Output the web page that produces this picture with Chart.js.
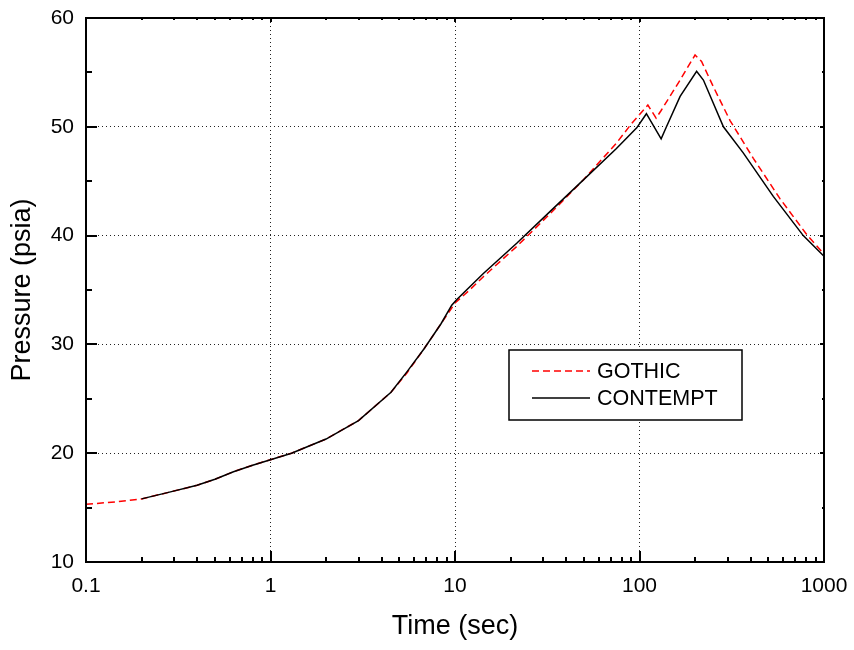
<!DOCTYPE html>
<html>
<head>
<meta charset="utf-8">
<script src="https://cdn.jsdelivr.net/npm/chart.js@4/dist/chart.umd.min.js"></script>
<style>
  html, body { margin: 0; padding: 0; background: #fff; }
  #wrap { width: 854px; height: 650px; }
</style>
</head>
<body>
<div id="wrap"><canvas id="c" width="854" height="650"></canvas></div>
<script>
// ---- data ----
const seriesNames = ["GOTHIC", "CONTEMPT"];

const gothicTime = [0.1, 0.15, 0.2, 0.28, 0.4, 0.5, 0.63, 0.8, 1.0, 1.3, 2.0, 3.0, 4.5, 5.5, 6.8, 8.4, 10.0, 12, 14.2, 21.6, 32.7, 49.5, 75, 90.6, 111, 123, 131, 166, 200, 217, 251, 309, 414, 577, 806, 1000];
const gothicPressure = [15.3, 15.55, 15.8, 16.4, 17.05, 17.6, 18.3, 18.9, 19.4, 20.0, 21.3, 23.0, 25.6, 27.4, 29.6, 31.9, 33.8, 35.0, 36.2, 39.0, 42.0, 45.1, 48.5, 50.3, 52.0, 50.8, 51.5, 54.3, 56.6, 56.0, 53.7, 50.6, 47.1, 43.4, 40.1, 38.3];

const contemptTime = [0.2, 0.28, 0.4, 0.5, 0.63, 0.8, 1.0, 1.3, 2.0, 3.0, 4.5, 5.5, 6.8, 8.4, 9.6, 10.2, 14.2, 21.6, 32.7, 49.5, 75, 96.6, 109, 131, 140, 166, 204, 222, 285, 365, 531, 772, 1000];
const contemptPressure = [15.8, 16.4, 17.05, 17.6, 18.3, 18.9, 19.4, 20.0, 21.3, 23.0, 25.6, 27.5, 29.6, 31.9, 33.6, 34.1, 36.5, 39.3, 42.2, 45.1, 48.0, 49.9, 51.2, 48.9, 50.0, 52.8, 55.1, 54.3, 50.0, 47.6, 43.6, 40.0, 38.1];

const xTickValues = [0.1, 1, 10, 100, 1000];
const xTickLabels = ["0.1", "1", "10", "100", "1000"];
const yTickValues = [10, 20, 30, 40, 50, 60];
const yTickLabels = ["10", "20", "30", "40", "50", "60"];

const xTitle = "Time (sec)";
const yTitle = "Pressure (psia)";

// ---- chart ----
const FONT = "'Liberation Sans', Arial, sans-serif";

function toPoints(xs, ys) { return xs.map((x, i) => ({ x: x, y: ys[i] })); }

const framePlugin = {
  id: 'frameTicksLegend',
  afterDatasetsDraw(chart) {
    const ctx = chart.ctx;
    const a = chart.chartArea;
    const xs = chart.scales.x, ys = chart.scales.y;
    ctx.save();
    ctx.strokeStyle = '#000';
    ctx.lineWidth = 2;
    ctx.setLineDash([]);
    ctx.strokeRect(a.left, a.top, a.right - a.left, a.bottom - a.top);
    ctx.beginPath();
    for (let d = 0; d < xTickValues.length; d++) {
      const dec = xTickValues[d];
      for (let k = 1; k <= 9; k++) {
        const v = dec * k;
        if (v > xs.max * 1.0001) break;
        const px = Math.round(xs.getPixelForValue(v));
        const major = (k === 1);
        const lb = major ? 11 : 5;
        const lt = major ? 4 : 2;
        ctx.moveTo(px, a.bottom); ctx.lineTo(px, a.bottom - lb);
        ctx.moveTo(px, a.top); ctx.lineTo(px, a.top + lt);
      }
    }
    for (let i = 0; i < yTickValues.length; i++) {
      const v = yTickValues[i];
      const py = Math.round(ys.getPixelForValue(v));
      ctx.moveTo(a.left, py); ctx.lineTo(a.left + 11, py);
      ctx.moveTo(a.right, py); ctx.lineTo(a.right - 4, py);
      if (i < yTickValues.length - 1) {
        const m = (v + yTickValues[i + 1]) / 2;
        const pm = Math.round(ys.getPixelForValue(m));
        ctx.moveTo(a.left, pm); ctx.lineTo(a.left + 6, pm);
        ctx.moveTo(a.right, pm); ctx.lineTo(a.right - 2, pm);
      }
    }
    ctx.stroke();

    // legend box
    const bx = 509, by = 350, bw = 233, bh = 70;
    ctx.fillStyle = '#fff';
    ctx.fillRect(bx, by, bw, bh);
    ctx.lineWidth = 1.5;
    ctx.strokeStyle = '#000';
    ctx.strokeRect(bx, by, bw, bh);
    ctx.font = "21.5px " + FONT;
    ctx.textBaseline = 'middle';
    ctx.textAlign = 'left';
    const rows = [371, 398];
    chart.data.datasets.forEach((ds, i) => {
      const y = rows[i];
      ctx.beginPath();
      ctx.strokeStyle = ds.borderColor;
      ctx.lineWidth = ds.borderWidth;
      ctx.setLineDash(ds.borderDash || []);
      ctx.moveTo(532, y); ctx.lineTo(590, y);
      ctx.stroke();
      ctx.setLineDash([]);
      ctx.fillStyle = '#000';
      ctx.fillText(ds.label, 597, y + 1);
    });
    ctx.restore();
  }
};

new Chart(document.getElementById('c'), {
  type: 'line',
  data: {
    datasets: [
      {
        label: seriesNames[0],
        data: toPoints(gothicTime, gothicPressure),
        borderColor: '#ff0000',
        borderWidth: 1.5,
        borderDash: [7, 4],
        pointRadius: 0,
        tension: 0,
        fill: false,
        order: 1
      },
      {
        label: seriesNames[1],
        data: toPoints(contemptTime, contemptPressure),
        borderColor: '#000000',
        borderWidth: 1.5,
        pointRadius: 0,
        tension: 0,
        fill: false,
        order: 0
      }
    ]
  },
  options: {
    responsive: false,
    animation: false,
    devicePixelRatio: 1,
    layout: { padding: { left: 0, top: 18, right: 30, bottom: 0 } },
    plugins: {
      legend: { display: false },
      tooltip: { enabled: false },
      title: { display: false }
    },
    scales: {
      x: {
        type: 'logarithmic',
        min: 0.1,
        max: 1000,
        afterBuildTicks(s) { s.ticks = xTickValues.map(v => ({ value: v })); },
        afterFit(s) { s.height = 88; s.paddingLeft = 0; s.paddingRight = 0; },
        border: { display: false, dash: [1, 3] },
        grid: {
          drawTicks: false,
          tickLength: 0,
          lineWidth: 1,
          color: (c) => (c.tick && (c.tick.value <= 0.1 || c.tick.value >= 1000)) ? 'rgba(0,0,0,0)' : '#222'
        },
        ticks: {
          autoSkip: false,
          maxRotation: 0,
          padding: 12,
          color: '#000',
          font: { family: FONT, size: 21 },
          callback: (v) => { const i = xTickValues.indexOf(v); return i >= 0 ? xTickLabels[i] : ''; }
        },
        title: {
          display: true,
          text: xTitle,
          color: '#000',
          font: { family: FONT, size: 27 },
          padding: { top: 0, bottom: 7 }
        }
      },
      y: {
        type: 'linear',
        min: 10,
        max: 60,
        afterBuildTicks(s) { s.ticks = yTickValues.map(v => ({ value: v })); },
        afterFit(s) { s.width = 86; s.paddingTop = 0; s.paddingBottom = 0; },
        border: { display: false, dash: [1, 3] },
        grid: {
          drawTicks: false,
          tickLength: 0,
          lineWidth: 1,
          color: (c) => (c.tick && (c.tick.value <= 10 || c.tick.value >= 60)) ? 'rgba(0,0,0,0)' : '#222'
        },
        ticks: {
          padding: 12,
          color: '#000',
          font: { family: FONT, size: 21 },
          callback: (v) => { const i = yTickValues.indexOf(v); return i >= 0 ? yTickLabels[i] : ''; }
        },
        title: {
          display: true,
          text: yTitle,
          color: '#000',
          font: { family: FONT, size: 27 },
          padding: { top: 6, bottom: 0 }
        }
      }
    }
  },
  plugins: [framePlugin]
});
</script>
</body>
</html>
